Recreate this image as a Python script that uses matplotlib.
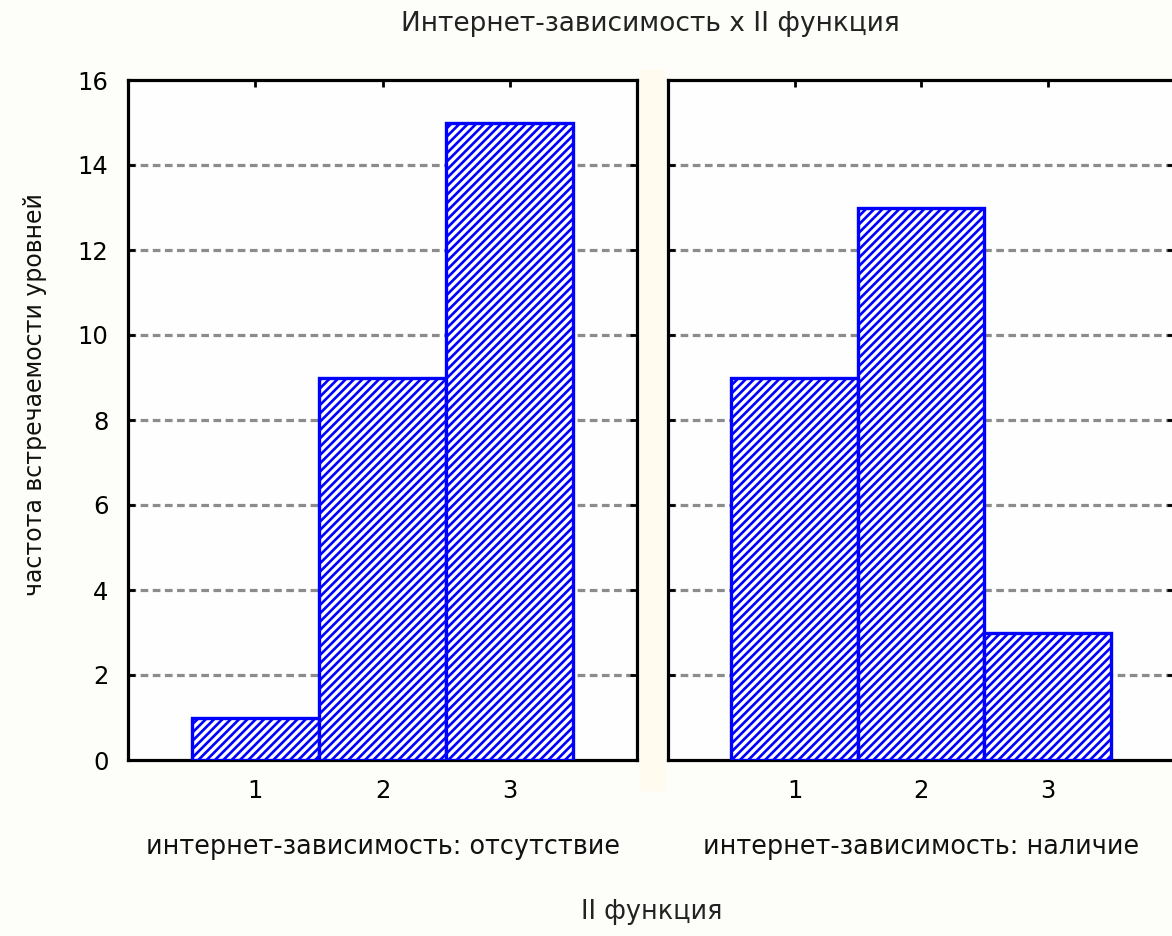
import matplotlib.pyplot as plt
from matplotlib.patches import Rectangle

plt.rcParams['font.family'] = ['DejaVu Sans']
plt.rcParams['hatch.color'] = '#1a1aff'
plt.rcParams['hatch.linewidth'] = 1.9

# data
levels = [1, 2, 3]
freq_absent = [1, 9, 15]
freq_present = [9, 13, 3]
panel_titles = ['интернет-зависимость: отсутствие', 'интернет-зависимость: наличие']
y_ticks = [0, 2, 4, 6, 8, 10, 12, 14, 16]

fig = plt.figure(figsize=(11.72, 9.36), dpi=100, facecolor='#fdfdfa')

# cream strip between the two panels
fig.patches.append(Rectangle((640 / 1172, 1 - 790 / 936), 24 / 1172, 720 / 936,
                             transform=fig.transFigure, color='#fffbee', zorder=0))

bottom = 1 - 760 / 936
height = 680 / 936
ax1 = fig.add_axes([128 / 1172, bottom, 509 / 1172, height])
ax2 = fig.add_axes([668 / 1172, bottom, 506 / 1172, height])

for ax, vals, name in [(ax1, freq_absent, panel_titles[0]), (ax2, freq_present, panel_titles[1])]:
    ax.set_facecolor('#fdfefd')
    ax.bar(levels, vals, width=1.0, facecolor='white', edgecolor='#0000ff',
           linewidth=2.4, hatch='////', zorder=3)
    ax.set_xlim(0, 4)
    ax.set_ylim(0, 16)
    ax.set_xticks(levels)
    ax.set_yticks(y_ticks)
    for y in y_ticks[1:-1]:
        ax.axhline(y, color='#8c8c8c', linestyle=(0, (2.4, 1.4)), linewidth=2.3, zorder=1)
    for s in ax.spines.values():
        s.set_linewidth(2.3)
        s.set_color('black')
    ax.tick_params(direction='in', length=5, width=2, top=True, right=True,
                   labelsize=17.5, colors='black', pad=14)
    ax.set_xlabel(name, fontsize=18.4, labelpad=22, color='#111111')

ax2.tick_params(labelleft=False)
fig.text(35 / 1172, 1 - 395 / 936, 'частота встречаемости уровней', rotation=90,
         ha='center', va='center', fontsize=17, color='#111111')

fig.text(650 / 1172, 1 - 24 / 936, 'Интернет-зависимость x II функция',
         ha='center', va='center', fontsize=19, color='#222222')
fig.text(652 / 1172, 1 - 912 / 936, 'II функция',
         ha='center', va='center', fontsize=18.4, color='#222222')

fig.savefig('out.png', dpi=100, facecolor=fig.get_facecolor())
